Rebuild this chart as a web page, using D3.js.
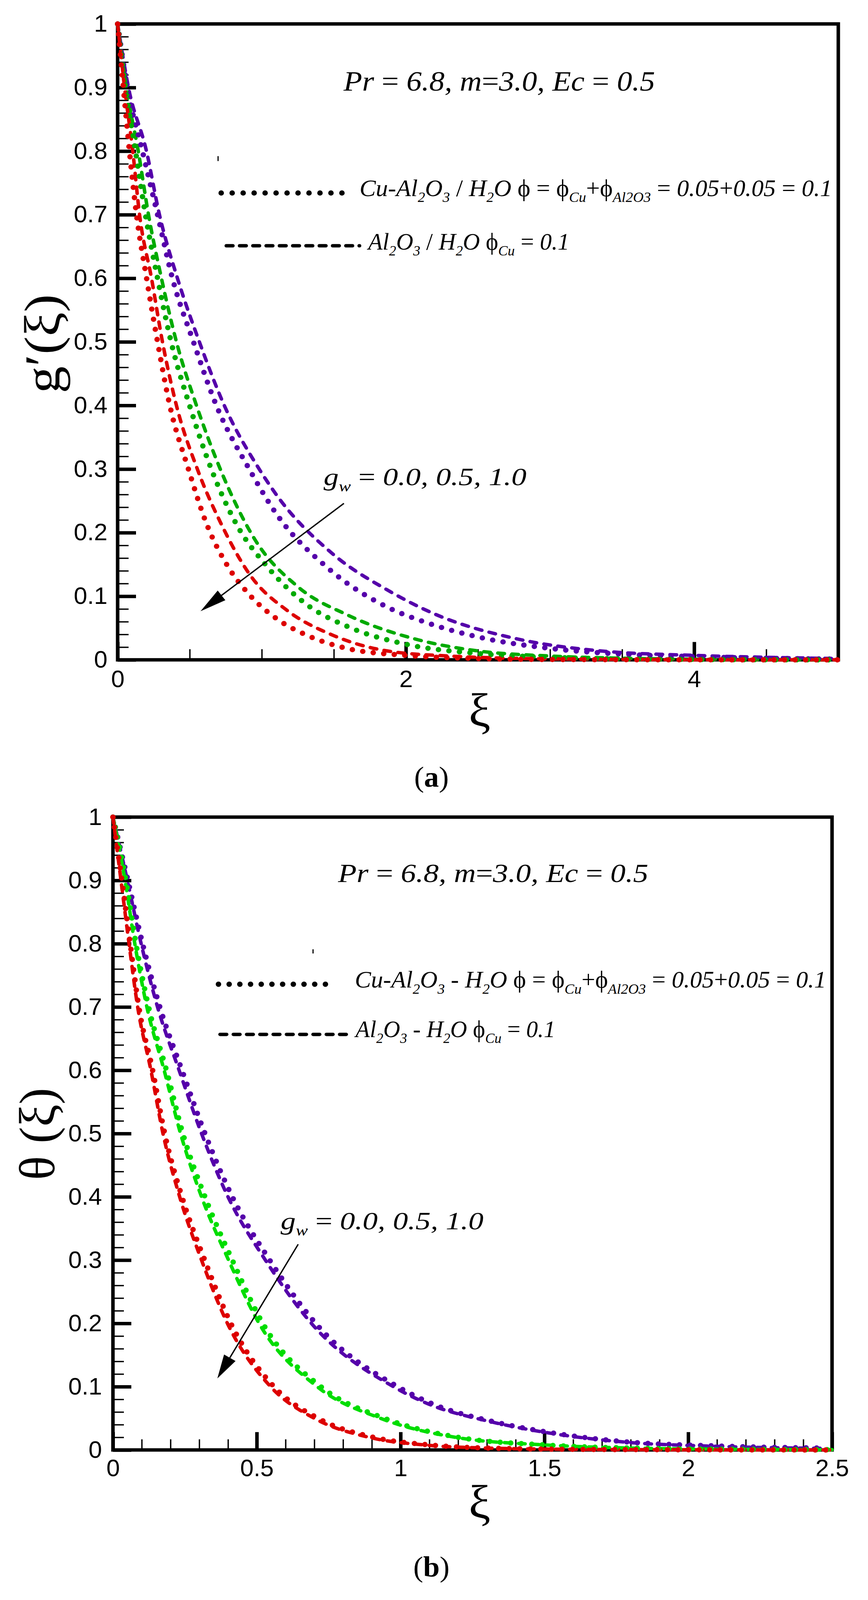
<!DOCTYPE html>
<html><head><meta charset="utf-8">
<script src="https://cdn.jsdelivr.net/npm/d3@7"></script>
<style>html,body{margin:0;padding:0;background:#fff;overflow:hidden}svg{display:block}</style>
</head><body>
<svg id="chart" width="2221" height="4212" xmlns="http://www.w3.org/2000/svg"></svg>
<script>
// ---------------- DATA: panel (a) g'(xi) ----------------
const xiA_p_dot = [0, 0.067, 0.172, 0.277, 0.38, 0.526, 0.685, 0.913, 1.10, 1.45, 1.87, 2.15, 2.5, 3.0, 3.5, 4.0, 4.5, 5.0];
const gA_p_dot  = [1, 0.9, 0.8, 0.7, 0.6, 0.5, 0.4, 0.3, 0.23, 0.146, 0.083, 0.058, 0.036, 0.018, 0.009, 0.005, 0.0025, 0.0012];
const xiA_p_dash = [0, 0.075, 0.2, 0.29, 0.415, 0.567, 0.74, 0.982, 1.10, 1.49, 1.87, 2.19, 2.77, 3.35, 4.0, 4.5, 5.0];
const gA_p_dash  = [1, 0.9, 0.8, 0.7, 0.6, 0.5, 0.4, 0.3, 0.26, 0.167, 0.11, 0.073, 0.033, 0.014, 0.007, 0.004, 0.002];
const xiA_g_dot = [0, 0.055, 0.124, 0.193, 0.277, 0.371, 0.499, 0.65, 0.82, 1.04, 1.30, 1.62, 1.99, 2.5, 3.0, 3.5, 4.0, 5.0];
const gA_g_dot  = [1, 0.9, 0.8, 0.7, 0.6, 0.5, 0.4, 0.3, 0.215, 0.146, 0.089, 0.05, 0.025, 0.01, 0.004, 0.0015, 0.0006, 0];
const xiA_g_dash = [0, 0.06, 0.143, 0.214, 0.304, 0.408, 0.547, 0.712, 0.95, 1.25, 1.60, 2.06, 2.5, 3.0, 3.5, 4.0, 5.0];
const gA_g_dash  = [1, 0.9, 0.8, 0.7, 0.6, 0.5, 0.4, 0.3, 0.19, 0.115, 0.070, 0.033, 0.014, 0.006, 0.0025, 0.001, 0];
const xiA_r_dot = [0, 0.04, 0.082, 0.131, 0.201, 0.277, 0.362, 0.491, 0.61, 0.77, 0.90, 1.12, 1.32, 1.59, 2.0, 2.5, 3.0, 4.0, 5.0];
const gA_r_dot  = [1, 0.9, 0.8, 0.7, 0.6, 0.5, 0.4, 0.3, 0.218, 0.145, 0.106, 0.062, 0.038, 0.018, 0.007, 0.002, 0.0006, 0.0001, 0];
const xiA_r_dash = [0, 0.048, 0.105, 0.152, 0.235, 0.311, 0.408, 0.553, 0.72, 0.92, 1.18, 1.49, 1.87, 2.3, 3.0, 4.0, 5.0];
const gA_r_dash  = [1, 0.9, 0.8, 0.7, 0.6, 0.5, 0.4, 0.3, 0.213, 0.133, 0.077, 0.039, 0.014, 0.006, 0.0015, 0.0002, 0];

// ---------------- DATA: panel (b) theta(xi) ----------------
const xiB_p_dot = [0, 0.052, 0.103, 0.163, 0.24, 0.32, 0.415, 0.545, 0.705, 0.99, 1.115, 1.31, 1.5, 1.79, 2.08, 2.47];
const tB_p_dot  = [1, 0.9, 0.8, 0.7, 0.6, 0.5, 0.4, 0.3, 0.2, 0.1, 0.072, 0.046, 0.029, 0.0126, 0.0066, 0.003];
const xiB_p_dash = [0, 0.05, 0.098, 0.155, 0.23, 0.308, 0.40, 0.53, 0.69, 0.975, 1.10, 1.30, 1.5, 1.79, 2.08, 2.47];
const tB_p_dash  = [1, 0.9, 0.8, 0.7, 0.6, 0.5, 0.4, 0.3, 0.2, 0.1, 0.072, 0.046, 0.028, 0.012, 0.006, 0.0025];
const xiB_g_dot = [0, 0.045, 0.08, 0.124, 0.186, 0.243, 0.32, 0.415, 0.521, 0.723, 0.944, 1.2, 1.5, 1.8, 2.2, 2.5];
const tB_g_dot  = [1, 0.9, 0.8, 0.7, 0.6, 0.5, 0.4, 0.3, 0.2, 0.1, 0.05, 0.02, 0.008, 0.003, 0.001, 0.0005];
const xiB_g_dash = [0, 0.042, 0.076, 0.118, 0.178, 0.235, 0.308, 0.402, 0.508, 0.71, 0.93, 1.19, 1.5, 1.8, 2.2, 2.5];
const tB_g_dash  = [1, 0.9, 0.8, 0.7, 0.6, 0.5, 0.4, 0.3, 0.2, 0.1, 0.05, 0.02, 0.008, 0.003, 0.001, 0.0005];
const xiB_r_dot = [0, 0.031, 0.06, 0.09, 0.138, 0.18, 0.24, 0.319, 0.41, 0.56, 0.713, 0.906, 1.1, 1.3, 1.6, 2.0, 2.5];
const tB_r_dot  = [1, 0.9, 0.8, 0.7, 0.6, 0.5, 0.4, 0.3, 0.2, 0.1, 0.05, 0.02, 0.008, 0.003, 0.001, 0.0003, 0];
const xiB_r_dash = [0, 0.028, 0.056, 0.086, 0.132, 0.174, 0.232, 0.308, 0.398, 0.548, 0.70, 0.89, 1.08, 1.3, 1.6, 2.0, 2.5];
const tB_r_dash  = [1, 0.9, 0.8, 0.7, 0.6, 0.5, 0.4, 0.3, 0.2, 0.1, 0.05, 0.02, 0.008, 0.003, 0.001, 0.0003, 0];

// ---------------- TICKS ----------------
const yTickValues = [0, 0.1, 0.2, 0.3, 0.4, 0.5, 0.6, 0.7, 0.8, 0.9, 1];
const yTickLabels = ["0", "0.1", "0.2", "0.3", "0.4", "0.5", "0.6", "0.7", "0.8", "0.9", "1"];
const xTickValuesA = [0, 2, 4];
const xTickLabelsA = ["0", "2", "4"];
const xTickValuesB = [0, 0.5, 1, 1.5, 2, 2.5];
const xTickLabelsB = ["0", "0.5", "1", "1.5", "2", "2.5"];

// ---------------- STYLE ----------------
const PURPLE = "#5500aa", RED = "#dd0000", GREEN_A = "#00aa00", GREEN_B = "#00dd00";
const SERIF = "'Liberation Serif', 'Times New Roman', serif";
const SANS = "'Liberation Sans', Arial, sans-serif";
const W = 2221, H = 4212;

// the figure is laid out in a 2221 x 4212 coordinate space and fitted to the visible window
const viewH = Math.min(window.innerHeight || H, H);
const svg = d3.select("#chart").attr("width", W).attr("height", viewH)
  .attr("viewBox", `0 0 ${W} ${H}`).attr("preserveAspectRatio", "none");

function richText(g, segs, x, y, fs, anchor) {
  const t = g.append("text").attr("x", x).attr("y", y).attr("font-size", fs)
    .attr("font-family", SERIF).attr("fill", "#000").attr("xml:space", "preserve")
    .style("white-space", "pre");
  if (anchor) t.attr("text-anchor", anchor);
  let sub = false;
  segs.forEach(([txt, st]) => {
    const isSub = st.includes("s");
    const ts = t.append("tspan").text(txt)
      .attr("font-style", st.includes("i") ? "italic" : "normal")
      .attr("font-weight", st.includes("b") ? "bold" : "normal");
    if (isSub) ts.attr("font-size", fs * 0.6);
    if (isSub && !sub) ts.attr("dy", fs * 0.25);
    if (!isSub && sub) ts.attr("dy", -fs * 0.25);
    sub = isSub;
  });
  return t;
}
function fit(t, x0, x1) {
  const b = t.node().getBBox();
  const s = (x1 - x0) / b.width;
  t.attr("transform", `translate(${x0},0) scale(${s},1) translate(${-b.x},0)`);
}

function panel(cfg) {
  const g = svg.append("g");
  const x = d3.scaleLinear().domain(cfg.xDomain).range([cfg.x0, cfg.x1]);
  const y = d3.scaleLinear().domain([0, 1]).range([cfg.yBot, cfg.yTop]);

  // minor ticks
  const yMinor = d3.range(0, 1.0001, 0.02).filter(v => Math.abs(v * 10 - Math.round(v * 10)) > 1e-6);
  const ym = g.append("g").attr("transform", `translate(${cfg.x0},0)`)
    .call(d3.axisLeft(y).tickValues(yMinor).tickSize(-28).tickFormat(""));
  ym.select(".domain").remove();
  ym.selectAll("line").attr("stroke-width", 3.5);
  const xm = g.append("g").attr("transform", `translate(0,${cfg.yBot})`)
    .call(d3.axisBottom(x).tickValues(cfg.xMinor).tickSize(-28).tickFormat(""));
  xm.select(".domain").remove();
  xm.selectAll("line").attr("stroke-width", 3.5);

  // major ticks + labels
  const ya = g.append("g").attr("transform", `translate(${cfg.x0},0)`)
    .call(d3.axisLeft(y).tickValues(yTickValues).tickFormat((d, i) => yTickLabels[i]).tickSize(-47).tickPadding(cfg.yPad));
  ya.select(".domain").remove();
  ya.selectAll("line").attr("stroke-width", 9);
  ya.selectAll("text").attr("font-size", 62).attr("font-family", SANS).attr("fill", "#000");
  const xa = g.append("g").attr("transform", `translate(0,${cfg.yBot})`)
    .call(d3.axisBottom(x).tickValues(cfg.xTicks).tickFormat((d, i) => cfg.xLabels[i]).tickSize(-47).tickPadding(cfg.xPad));
  xa.select(".domain").remove();
  xa.selectAll("line").attr("stroke-width", 9);
  xa.selectAll("text").attr("font-size", 62).attr("font-family", SANS).attr("fill", "#000");

  // frame
  g.append("rect").attr("x", cfg.x0).attr("y", cfg.yTop)
    .attr("width", cfg.x1 - cfg.x0).attr("height", cfg.yBot - cfg.yTop)
    .attr("fill", "none").attr("stroke", "#000").attr("stroke-width", 9);

  // curves
  const line = d3.line().x(d => x(d[0])).y(d => y(d[1])).curve(d3.curveMonotoneX);
  const dashed = cfg.series.filter(s => s.style === "dash");
  const dotted = cfg.series.filter(s => s.style === "dot");
  dashed.concat(dotted).forEach(s => {
    const p = g.append("path").datum(d3.zip(s.xi, s.v)).attr("d", line)
      .attr("fill", "none").attr("stroke", s.color).attr("stroke-linecap", "round");
    if (s.style === "dot") p.attr("stroke-width", 14).attr("stroke-dasharray", "0 27");
    else p.attr("stroke-width", 9).attr("stroke-dasharray", "17 19");
  });

  // annotation text
  const pr = richText(g, [["Pr", "i"], [" = ", "n"], ["6.8, m", "i"], ["=", "n"], ["3.0, Ec", "i"], [" = ", "n"], ["0.5", "i"]], cfg.pr[0], cfg.pr[2], cfg.prSize);
  fit(pr, cfg.pr[0], cfg.pr[1]);

  // legend
  const L = cfg.leg;
  g.append("line").attr("x1", L.dot[0]).attr("x2", L.dot[1]).attr("y1", L.dot[2]).attr("y2", L.dot[2])
    .attr("stroke", "#000").attr("stroke-width", 14).attr("stroke-linecap", "round")
    .attr("stroke-dasharray", `0 ${(L.dot[1] - L.dot[0]) / L.dot[3]}`);
  g.append("line").attr("x1", L.dash[0]).attr("x2", L.dash[1]).attr("y1", L.dash[2]).attr("y2", L.dash[2])
    .attr("stroke", "#000").attr("stroke-width", 9).attr("stroke-linecap", "round")
    .attr("stroke-dasharray", "17 17");
  const sep = cfg.sep;
  const t1 = richText(g, [["Cu-Al", "i"], ["2", "is"], ["O", "i"], ["3", "is"], [sep, "n"], ["H", "i"], ["2", "is"], ["O ", "i"],
    ["ϕ = ϕ", "n"], ["Cu", "is"], ["+ϕ", "n"], ["Al2O3", "is"], [" = ", "n"], ["0.05", "i"], ["+", "n"], ["0.05", "i"], [" = ", "n"], ["0.1", "i"]],
    L.t1[0], L.t1[2], 63);
  fit(t1, L.t1[0], L.t1[1]);
  const t2 = richText(g, [["Al", "i"], ["2", "is"], ["O", "i"], ["3", "is"], [sep, "n"], ["H", "i"], ["2", "is"], ["O ", "i"],
    ["ϕ", "n"], ["Cu", "is"], [" = ", "n"], ["0.1", "i"]], L.t2[0], L.t2[2], 63);
  fit(t2, L.t2[0], L.t2[1]);
  g.append("line").attr("x1", L.mark[0]).attr("x2", L.mark[0]).attr("y1", L.mark[1]).attr("y2", L.mark[2])
    .attr("stroke", "#000").attr("stroke-width", 3);

  // g_w annotation with arrow
  const gw = richText(g, [["g", "i"], ["w", "is"], [" = ", "n"], ["0.0, 0.5, 1.0", "i"]], cfg.gw[0], cfg.gw[2], 66);
  fit(gw, cfg.gw[0], cfg.gw[1]);
  const A = cfg.arrow;
  const sx = x(A.from[0]), sy = y(A.from[1]), tx = x(A.to[0]), ty = y(A.to[1]);
  const ang = Math.atan2(ty - sy, tx - sx);
  const bx = tx - A.len * Math.cos(ang), by = ty - A.len * Math.sin(ang);
  g.append("line").attr("x1", sx).attr("y1", sy).attr("x2", bx + 10 * Math.cos(ang)).attr("y2", by + 10 * Math.sin(ang))
    .attr("stroke", "#000").attr("stroke-width", 3.5);
  const nx = -Math.sin(ang) * A.hw, ny = Math.cos(ang) * A.hw;
  g.append("path").attr("d", `M${tx},${ty}L${bx + nx},${by + ny}L${bx - nx},${by - ny}Z`).attr("fill", "#000");

  // axis titles
  g.append("text").attr("x", cfg.xt[0]).attr("y", cfg.xt[1]).attr("text-anchor", "middle")
    .attr("font-family", SERIF).attr("font-size", 125).text("ξ");
  g.append("text").attr("transform", `translate(${cfg.yt[0]},${cfg.yt[1]}) rotate(-90)`).attr("text-anchor", "middle")
    .attr("font-family", SERIF).attr("font-size", 130).attr("xml:space", "preserve").style("white-space", "pre")
    .attr("textLength", cfg.ytLen).attr("lengthAdjust", "spacingAndGlyphs").text(cfg.ytitle);

  // caption
  richText(g, [["(", "n"], [cfg.cap, "b"], [")", "n"]], cfg.capPos[0], cfg.capPos[1], 76, "middle");
}

panel({
  xDomain: [0, 5], x0: 301, x1: 2145, yTop: 63, yBot: 1737,
  xTicks: xTickValuesA, xLabels: xTickLabelsA, xMinor: [0.5, 1, 1.5, 2.5, 3, 3.5, 4.5],
  yPad: 26, xPad: 28,
  series: [
    { xi: xiA_p_dash, v: gA_p_dash, color: PURPLE, style: "dash" },
    { xi: xiA_g_dash, v: gA_g_dash, color: GREEN_A, style: "dash" },
    { xi: xiA_r_dash, v: gA_r_dash, color: RED, style: "dash" },
    { xi: xiA_p_dot, v: gA_p_dot, color: PURPLE, style: "dot" },
    { xi: xiA_g_dot, v: gA_g_dot, color: GREEN_A, style: "dot" },
    { xi: xiA_r_dot, v: gA_r_dot, color: RED, style: "dot" }
  ],
  pr: [878, 1676, 239], prSize: 74,
  leg: { dot: [566, 903, 508, 12], dash: [579, 920, 647], t1: [920, 2129, 516], t2: [938, 1457, 657], mark: [558, 411, 424] },
  sep: " / ",
  gw: [828, 1347, 1277],
  arrow: { from: [1.570, 0.246], to: [0.575, 0.0765], len: 68, hw: 16 },
  xt: [1227, 1912], yt: [152, 905], ytitle: "g′(ξ)", ytLen: 261,
  cap: "a", capPos: [1104, 2071]
});

panel({
  xDomain: [0, 2.5], x0: 289, x1: 2129, yTop: 2151, yBot: 3817,
  xTicks: xTickValuesB, xLabels: xTickLabelsB,
  xMinor: d3.range(0.1, 2.5, 0.1).filter(v => Math.abs(v * 2 - Math.round(v * 2)) > 1e-6),
  yPad: 28, xPad: 25,
  series: [
    { xi: xiB_p_dash, v: tB_p_dash, color: PURPLE, style: "dash" },
    { xi: xiB_g_dash, v: tB_g_dash, color: GREEN_B, style: "dash" },
    { xi: xiB_r_dash, v: tB_r_dash, color: RED, style: "dash" },
    { xi: xiB_p_dot, v: tB_p_dot, color: PURPLE, style: "dot" },
    { xi: xiB_g_dot, v: tB_g_dot, color: GREEN_B, style: "dot" },
    { xi: xiB_r_dot, v: tB_r_dot, color: RED, style: "dot" }
  ],
  pr: [864, 1659, 2322], prSize: 70,
  leg: { dot: [559, 860, 2591, 11], dash: [563, 888, 2723], t1: [908, 2114, 2600], t2: [906, 1421, 2730], mark: [801, 2499, 2510] },
  sep: " - ",
  gw: [718, 1237, 3236],
  arrow: { from: [0.644, 0.325], to: [0.363, 0.113], len: 63, hw: 17 },
  xt: [1227, 3996], yt: [139, 2985], ytitle: "θ (ξ)", ytLen: 243,
  cap: "b", capPos: [1104, 4150]
});
</script>
</body></html>
